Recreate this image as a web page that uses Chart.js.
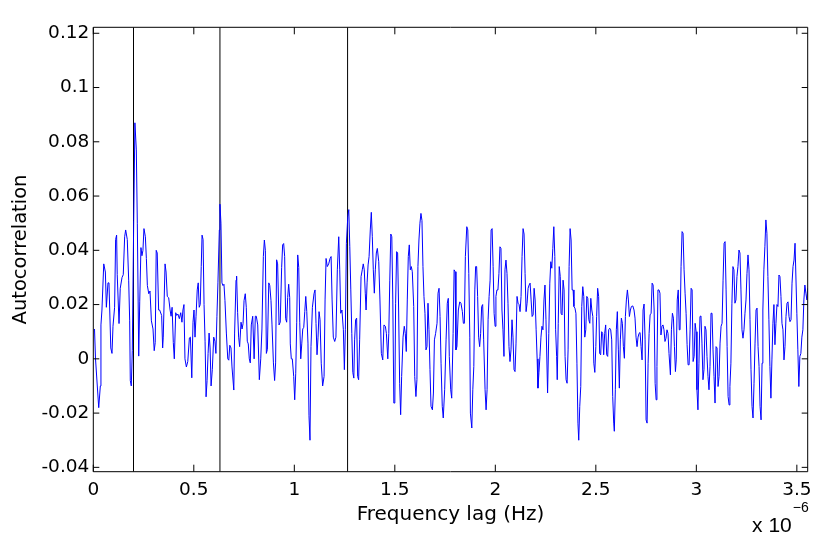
<!DOCTYPE html>
<html>
<head>
<meta charset="utf-8">
<script src="https://cdn.jsdelivr.net/npm/chart.js@4.4.1/dist/chart.umd.min.js"></script>
<style>
html,body{margin:0;padding:0;background:#fff;}
#wrap{width:830px;height:543px;position:relative;}
</style>
</head>
<body>
<div id="wrap"><canvas id="c" width="830" height="543"></canvas></div>
<script>
// Frequency lag in units of 1e-6 Hz
const lagMicroHz = [
0.006,0.011,0.027,0.035,0.038,0.043,0.052,0.060,0.065,0.073,
0.078,0.087,0.093,0.098,0.106,0.111,0.116,0.119,0.128,0.134,
0.143,0.149,0.156,0.161,0.169,0.176,0.181,0.184,0.189,0.194,
0.201,0.207,0.214,0.219,0.226,0.231,0.237,0.242,0.247,0.252,
0.259,0.264,0.269,0.276,0.282,0.289,0.297,0.303,0.308,0.313,
0.318,0.325,0.330,0.340,0.345,0.348,0.357,0.362,0.368,0.375,
0.382,0.387,0.392,0.398,0.403,0.410,0.415,0.421,0.428,0.435,
0.441,0.446,0.451,0.456,0.463,0.470,0.478,0.483,0.490,0.496,
0.501,0.506,0.511,0.517,0.522,0.527,0.532,0.537,0.541,0.546,
0.551,0.556,0.561,0.566,0.571,0.576,0.581,0.586,0.592,0.599,
0.605,0.610,0.615,0.620,0.627,0.630,0.635,0.640,0.645,0.650,
0.655,0.662,0.669,0.674,0.679,0.685,0.690,0.699,0.703,0.710,
0.713,0.718,0.723,0.728,0.735,0.740,0.745,0.750,0.756,0.761,
0.766,0.771,0.776,0.781,0.786,0.793,0.800,0.806,0.811,0.818,
0.826,0.833,0.839,0.846,0.851,0.856,0.861,0.866,0.873,0.878,
0.884,0.889,0.896,0.902,0.907,0.912,0.917,0.924,0.930,0.937,
0.942,0.947,0.952,0.957,0.962,0.967,0.972,0.977,0.980,0.985,
0.990,0.997,1.002,1.007,1.012,1.017,1.022,1.027,1.032,1.037,
1.042,1.047,1.052,1.057,1.062,1.068,1.073,1.078,1.083,1.090,
1.098,1.103,1.108,1.113,1.118,1.123,1.128,1.134,1.141,1.148,
1.153,1.158,1.164,1.171,1.178,1.183,1.188,1.194,1.201,1.207,
1.214,1.221,1.226,1.231,1.237,1.244,1.249,1.254,1.259,1.266,
1.271,1.276,1.281,1.286,1.291,1.296,1.300,1.305,1.310,1.315,
1.320,1.325,1.332,1.338,1.343,1.348,1.353,1.357,1.362,1.367,
1.372,1.378,1.383,1.388,1.393,1.398,1.403,1.408,1.413,1.420,
1.426,1.433,1.440,1.446,1.453,1.458,1.465,1.470,1.475,1.480,
1.485,1.490,1.495,1.500,1.504,1.509,1.514,1.519,1.524,1.529,
1.534,1.541,1.547,1.552,1.557,1.562,1.567,1.572,1.577,1.582,
1.587,1.594,1.599,1.605,1.610,1.615,1.620,1.625,1.630,1.635,
1.640,1.645,1.650,1.655,1.660,1.665,1.670,1.675,1.680,1.687,
1.692,1.697,1.703,1.710,1.715,1.720,1.725,1.730,1.736,1.741,
1.748,1.755,1.761,1.766,1.771,1.778,1.783,1.790,1.795,1.800,
1.804,1.809,1.816,1.823,1.829,1.836,1.841,1.846,1.851,1.858,
1.863,1.868,1.873,1.876,1.883,1.888,1.893,1.898,1.902,1.907,
1.912,1.917,1.922,1.927,1.932,1.937,1.942,1.949,1.954,1.959,
1.964,1.969,1.974,1.979,1.984,1.989,1.994,1.999,2.003,2.008,
2.013,2.018,2.023,2.028,2.033,2.038,2.043,2.048,2.053,2.058,
2.063,2.068,2.073,2.078,2.083,2.088,2.093,2.098,2.103,2.108,
2.113,2.118,2.123,2.128,2.133,2.138,2.143,2.148,2.153,2.158,
2.163,2.168,2.173,2.178,2.183,2.188,2.193,2.198,2.203,2.208,
2.212,2.217,2.222,2.227,2.232,2.237,2.242,2.247,2.252,2.260,
2.266,2.271,2.276,2.281,2.286,2.291,2.296,2.300,2.305,2.308,
2.313,2.318,2.323,2.327,2.332,2.337,2.342,2.347,2.352,2.357,
2.362,2.367,2.372,2.377,2.382,2.387,2.391,2.396,2.401,2.406,
2.411,2.415,2.420,2.425,2.430,2.435,2.440,2.445,2.450,2.455,
2.460,2.465,2.470,2.475,2.480,2.485,2.490,2.495,2.500,2.504,
2.509,2.514,2.519,2.524,2.529,2.534,2.539,2.544,2.549,2.554,
2.559,2.564,2.569,2.574,2.579,2.584,2.589,2.592,2.597,2.602,
2.607,2.612,2.617,2.622,2.627,2.632,2.637,2.642,2.647,2.652,
2.657,2.662,2.667,2.672,2.677,2.684,2.690,2.695,2.700,2.705,
2.710,2.715,2.720,2.725,2.730,2.735,2.740,2.745,2.750,2.755,
2.760,2.765,2.770,2.775,2.780,2.785,2.790,2.795,2.800,2.804,
2.809,2.814,2.819,2.824,2.829,2.834,2.839,2.844,2.849,2.854,
2.859,2.864,2.871,2.876,2.881,2.886,2.891,2.896,2.900,2.905,
2.910,2.915,2.919,2.924,2.929,2.934,2.939,2.944,2.949,2.954,
2.959,2.964,2.969,2.974,2.979,2.984,2.989,2.994,2.999,3.003,
3.008,3.013,3.018,3.023,3.028,3.033,3.038,3.043,3.048,3.053,
3.058,3.063,3.068,3.073,3.078,3.083,3.088,3.093,3.098,3.103,
3.108,3.113,3.118,3.123,3.128,3.133,3.138,3.143,3.148,3.153,
3.158,3.163,3.167,3.172,3.177,3.182,3.187,3.192,3.197,3.202,
3.207,3.212,3.217,3.222,3.227,3.232,3.237,3.242,3.247,3.252,
3.257,3.262,3.267,3.272,3.277,3.282,3.287,3.292,3.297,3.302,
3.307,3.312,3.317,3.322,3.327,3.331,3.336,3.341,3.346,3.351,
3.356,3.361,3.366,3.371,3.376,3.381,3.386,3.391,3.396,3.401,
3.406,3.411,3.416,3.421,3.426,3.431,3.436,3.441,3.446,3.451,
3.456,3.461,3.466,3.471,3.476,3.481,3.486,3.491,3.495,3.500,
3.505,3.510,3.515,3.520,3.525,3.530,3.535,3.540,3.545,3.550,3.554
];

const autocorrelation = [
0.011,0,-0.018,-0.010,0.0125,0.018,0.035,0.032,0.019,0.028,
0.028,0.004,0.002,0.012,0.019,0.044,0.0456,0.031,0.013,0.026,
0.030,0.031,0.045,0.0475,0.044,0.029,0.014,-0.008,-0.010,0.003,
0.051,0.087,0.077,0.050,0.001,0.021,0.041,0.038,0.040,0.048,
0.045,0.037,0.027,0.024,0.025,0.014,0.011,0.003,0.006,0.040,
0.039,0.018,0.018,0.016,0.004,0.008,0.035,0.032,0.023,0.0225,
0.018,0.0157,0.019,0.006,0,0.017,0.016,0.0165,0.0148,0.017,
0.0135,0.018,0.020,0,-0.003,-0.001,0.0077,0.008,-0.007,0.0135,
0.018,0.008,0.0157,0.0254,0.028,0.019,0.020,0.034,0.0456,0.044,
0.020,0.0065,-0.014,-0.008,0.002,0.0095,0.004,-0.010,-0.004,0.008,
0.0065,0.002,0.0157,0.028,0.0475,0.057,0.050,0.028,0.027,0.0275,
0.0215,0.0095,0,-0.0005,0.005,0.004,-0.003,-0.0115,0.0095,0.029,
0.0305,0.017,0.008,0.0045,0.0135,0.011,0.013,0.0215,0.024,0.019,
0.0065,0.0055,0,-0.0015,0.0125,0.0157,0,0.0157,0.0157,0.0125,
-0.0077,0,0.011,0.0377,0.0438,0.040,0.002,0.0035,0.028,0.027,
0.0215,0.0125,-0.0015,-0.008,-0.0015,0.0365,0.035,0.0125,0.0135,0.0337,
0.042,0.0425,0.0377,0.0148,0.0135,0.0226,0.0275,0.0226,0.0055,0,
0,-0.0065,-0.0151,-0.0053,0.0135,0.0383,0.0337,0.0135,0,0.0055,
0.011,0.0116,0.0174,0.023,0.0174,0.0058,-0.021,-0.030,0.0045,0.019,
0.024,0.0254,0.013,0.0015,0.008,0.0174,0.0144,-0.0016,-0.010,-0.0065,
0.0217,0.037,0.034,0.035,0.037,0.0377,0.0217,0.008,0.0064,0.008,
0.0328,0.045,0.0328,0.0168,0.018,0.0107,-0.004,0.0107,0.0426,0.0524,
0.055,0.0413,0.0254,0.0094,-0.005,-0.0071,0.007,0.0144,0.015,-0.0065,
-0.0077,0.007,0.0303,0.0328,0.035,0.0328,0.0242,0.018,0.028,0.0346,
0.0377,0.0475,0.054,0.045,0.0328,0.0242,0.0328,0.039,0.0407,0.0358,
0.0217,0.002,-0.0004,0.0125,0.012,0.0094,0,0.0094,0.029,0.046,
0.045,0.0217,-0.0163,-0.0163,0.0205,0.0395,0.039,0.018,-0.009,-0.0206,
-0.0065,0.008,0.012,0.0094,0.0027,0.0217,0.0377,0.042,0.0328,0.034,
0.0321,0.0193,-0.0065,-0.0139,-0.0077,0.034,0.0438,0.050,0.0536,0.051,
0.034,0.023,0.0168,0.0033,0.0045,0.0205,0.0107,-0.004,-0.0175,-0.0188,
-0.0126,0.007,0.0094,0.0131,0.0242,0.026,0.0156,-0.0016,-0.0175,-0.0218,
-0.0114,0.007,0.0205,0.0223,0.0009,-0.0114,-0.0145,0.0094,0.0328,0.0321,
0.0033,0.0045,0.018,0.021,0.0205,0.0174,0.0131,0.0131,0.0377,0.0487,
0.0475,0.0315,0.008,-0.020,-0.0255,-0.0114,-0.0028,0.0254,0.034,0.034,
0.023,0.008,0.0045,0.0094,0.0193,0.020,0.007,-0.0114,-0.0188,-0.0114,
0.0144,0.023,0.029,0.0475,0.048,0.034,0.0168,0.012,0.023,0.0254,
0.0254,0.0315,0.0413,0.0407,0.018,0.0107,0.0009,0.0328,0.0364,0.0315,
0.0205,0.0045,-0.001,0.0033,0.0144,0.008,-0.004,-0.0047,0.0058,0.023,
0.0205,0.020,0.0174,0.023,0.0377,0.048,0.046,0.0315,0.0174,0.0205,
0.026,0.0272,0.0279,0.0217,0.0156,0.0162,0.026,0.0217,0.0107,0,
-0.0108,-0.005,0.0009,0.008,0.012,0.0107,0.0217,0.0272,0.0144,-0.0126,
0.0094,0.0279,0.0358,0.0334,0.0407,0.0487,0.0377,0.0107,0.0009,-0.0077,
0.0131,0.034,0.0303,0.0168,0.0162,0.029,0.0254,0.0009,-0.0077,-0.009,
0.0033,0.034,0.048,0.0438,0.0254,0.0254,0.0193,0.0187,0.0168,-0.0016,
-0.0237,-0.030,-0.0175,-0.0102,0.0193,0.0266,0.023,0.008,0.0107,0.023,
0.0223,0.0144,0.0131,0.0223,0.018,0.0156,-0.0016,-0.005,0.0045,0.0156,
0.026,0.023,0.002,0.0015,0.010,0.0094,0.0015,0.0094,0.0125,0.0015,
0.0009,0.0107,0.0113,0.0107,0.007,-0.0139,-0.0237,-0.0267,-0.0114,0.0107,
0.0174,0.0033,-0.0108,0.007,0.015,0.0131,0.0045,0.0002,0.0156,0.0217,
0.0254,0.0217,0.0156,0.018,0.0193,0.0195,0.018,0.015,0.008,0.0045,
0.008,0.0094,0.0097,0.0045,-0.0004,0.018,0.0202,0.007,-0.0225,-0.0237,
-0.0016,0.0094,0.0162,0.0168,0.0279,0.0272,0.018,-0.009,-0.0151,-0.0028,
0.0254,0.0254,0.0242,0.0088,0.012,0.0125,0.0107,0.0064,0.0076,0.0107,
0.0094,0.002,-0.0059,0.0107,0.0168,0.015,0.0045,-0.0047,-0.0004,0.0217,
0.0254,0.0107,0.0107,0.034,0.0469,0.0463,0.0328,0.0242,0.0168,0.0052,
-0.0022,-0.0022,0.0107,0.026,0.0254,-0.001,0.0009,0.0131,0.010,-0.0114,
-0.0188,-0.0016,0.0156,0.0158,0.0058,-0.0077,-0.004,0.012,0.0107,0.0009,
-0.0065,-0.0114,-0.0028,0.0168,0.0168,0.0033,-0.0065,-0.0163,0.0045,0.004,
-0.0102,-0.0065,0.0058,0.012,0.0131,0.029,0.0426,0.0432,0.0254,0.0045,
-0.0139,-0.017,-0.0102,-0.0016,0.0205,0.034,0.0328,0.0205,0.0217,0.0303,
0.034,0.0401,0.039,0.0254,0.0107,0.0076,0.0107,0.0168,0.0217,0.0315,
0.0383,0.0328,0.0144,-0.004,-0.0175,-0.0218,-0.009,0.0058,0.018,0.0187,
0.0045,-0.0028,-0.0175,-0.0225,-0.0016,0.018,0.0328,0.0413,0.0512,0.0463,
0.0303,0.0144,-0.0028,-0.0145,-0.0004,0.0131,0.020,0.0052,0.0131,0.020,
0.0193,0.0309,0.0303,0.023,0.0131,0.0107,-0.0004,0.0045,0.0156,0.0205,
0.021,0.0156,0.0137,0.0144,0.0279,0.034,0.0364,0.0426,0.0426,0.0168,
0.0033,-0.0102,0.0009,0.002,0.008,0.0107,0.0217,0.0272,0.0242,0.0217,0.026
];

// Frequency lags marked with vertical lines (1e-6 Hz)
const markerLags = [0.2, 0.63, 1.265];

const xRange = [0, 3.554];
const yRange = [-0.0416, 0.1222];
const xStep = 0.5;
const yStep = 0.02;
const xTitle = 'Frequency lag (Hz)';
const yTitle = 'Autocorrelation';
const xMultiplierBase = 'x 10';
const xMultiplierExp = '\u22126';

const seriesPoints = lagMicroHz.map((x, i) => ({x: x, y: autocorrelation[i]}));
const markerSets = markerLags.map(v => ({
  data: [{x: v, y: yRange[0]}, {x: v, y: yRange[1]}],
  showLine: true, borderColor: '#000000', borderWidth: 1,
  pointRadius: 0, order: 2
}));

const matlabAxes = {
  id: 'matlabAxes',
  afterDraw(chart) {
    const {ctx, chartArea: a, scales: {x, y}} = chart;
    ctx.save();
    ctx.strokeStyle = '#000';
    ctx.lineWidth = 1;
    ctx.beginPath();
    ctx.rect(a.left, a.top, a.right - a.left, a.bottom - a.top);
    x.ticks.forEach(t => {
      const px = x.getPixelForValue(t.value);
      ctx.moveTo(px, a.bottom); ctx.lineTo(px, a.bottom - 7);
      ctx.moveTo(px, a.top); ctx.lineTo(px, a.top + 7);
    });
    y.ticks.forEach(t => {
      const py = y.getPixelForValue(t.value);
      ctx.moveTo(a.left, py); ctx.lineTo(a.left + 6, py);
      ctx.moveTo(a.right, py); ctx.lineTo(a.right - 6, py);
    });
    ctx.stroke();
    // axis multiplier
    ctx.fillStyle = '#000';
    ctx.textBaseline = 'alphabetic';
    ctx.textAlign = 'right';
    ctx.font = '14px "Liberation Sans"';
    const expW = ctx.measureText(xMultiplierExp).width;
    ctx.fillText(xMultiplierExp, a.right + 1, a.bottom + 40);
    ctx.font = '21px "Liberation Sans"';
    ctx.fillText(xMultiplierBase, a.right - expW, a.bottom + 60);
    ctx.restore();
  }
};

new Chart(document.getElementById('c'), {
  type: 'scatter',
  data: {
    datasets: [{
      data: seriesPoints,
      showLine: true,
      borderColor: '#0000ff',
      borderWidth: 1,
      pointRadius: 0,
      tension: 0,
      order: 1
    }, ...markerSets]
  },
  options: {
    responsive: false,
    animation: false,
    devicePixelRatio: 1,
    layout: {padding: {left: 0, top: 27.3, right: 22.3, bottom: 0}},
    plugins: {legend: {display: false}, tooltip: {enabled: false}},
    scales: {
      x: {
        type: 'linear', min: xRange[0], max: xRange[1],
        afterFit(s) { s.height = 71.3; },
        grid: {display: false, drawTicks: false},
        border: {display: false},
        ticks: {
          stepSize: xStep, includeBounds: false, padding: 7, maxRotation: 0,
          color: '#000', font: {family: 'DejaVu Sans', size: 18.5},
          callback: v => String(Math.round(v * 100) / 100)
        },
        title: {display: true, text: xTitle, color: '#000',
          font: {family: 'DejaVu Sans', size: 20}, padding: {top: 0, bottom: 16.5}}
      },
      y: {
        type: 'linear', min: yRange[0], max: yRange[1],
        afterFit(s) { s.width = 93.3; },
        grid: {display: false, drawTicks: false},
        border: {display: false},
        ticks: {
          stepSize: yStep, includeBounds: false, padding: 4,
          color: '#000', font: {family: 'DejaVu Sans', size: 18.5},
          callback: v => String(Math.round(v * 100) / 100)
        },
        title: {display: true, text: yTitle, color: '#000',
          font: {family: 'DejaVu Sans', size: 19.5}, padding: {top: 9, bottom: 0}}
      }
    }
  },
  plugins: [matlabAxes]
});
</script>
</body>
</html>
